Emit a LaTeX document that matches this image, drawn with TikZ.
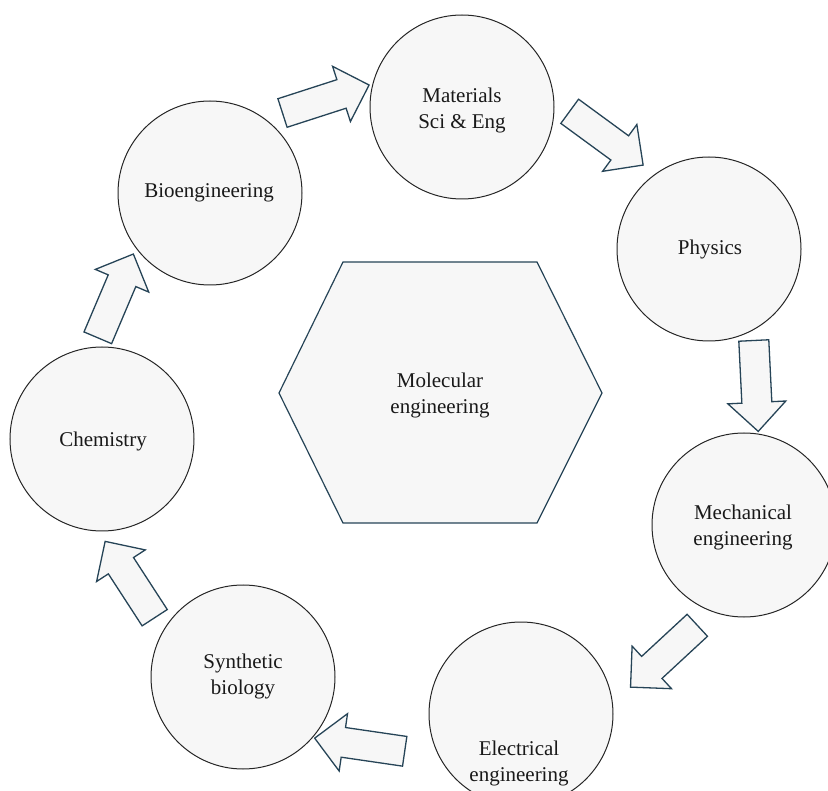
\documentclass[tikz,border=0pt]{standalone}
\usepackage{fontspec}
\setmainfont{Liberation Serif}
\definecolor{fillg}{HTML}{F7F7F7}
\definecolor{edgec}{HTML}{264457}
\begin{document}
\begin{tikzpicture}[x=1pt,y=-1pt,
  circ/.style={circle,draw=black!85,line width=1pt,fill=fillg,minimum size=184pt,inner sep=0pt},
  lbl/.style={align=center,font=\fontsize{21}{26}\selectfont,text=black!90,inner sep=0pt},
  arrowshape/.style={draw=edgec,fill=fillg,line width=1.3pt,line join=miter},
  hexshape/.style={draw=edgec,fill=fillg,line width=1.2pt,line join=miter},
  pics/blockarrow/.style={code={\path[arrowshape] (0,-15)--(62,-15)--(62,-29)--(91,0)--(62,29)--(62,15)--(0,15)--cycle;}}
]
\useasboundingbox (0,0) rectangle (828,791);
\clip (0,0) rectangle (828,791);

% circles
\node[circ] (mat) at (462,107) {};
\node[circ] (phy) at (709,249) {};
\node[circ] (mec) at (744,525) {};
\node[circ] (ele) at (521,714) {};
\node[circ] (syn) at (243,677) {};
\node[circ] (che) at (102,439) {};
\node[circ] (bio) at (210,193) {};

% labels
\node[lbl] (tmat) at (462,110) {Materials\\Sci \& Eng};
\node[lbl] (tphy) at (710,249) {Physics};
\node[lbl] (tmec) at (743,527) {Mechanical\\engineering};
\node[lbl] (tele) at (519,763) {Electrical\\engineering};
\node[lbl] (tsyn) at (243,676) {Synthetic\\biology};
\node[lbl] (tche) at (103,441) {Chemistry};
\node[lbl] (tbio) at (209,193) {Bioengineering};

% hexagon
\path[hexshape] (343,262) -- (537,262) -- (602,393) -- (537,523) -- (343,523) -- (279,393) -- cycle;
\node[lbl] (mol) at (440,395) {Molecular\\engineering};

% block arrows
\pic[rotate=17.9] at (282.5,113) {blockarrow};
\pic[rotate=-36.2] at (569.7,111.3) {blockarrow};
\pic[rotate=-87.2] at (753.8,340.5) {blockarrow};
\pic[rotate=-137.2] at (697.3,625.3) {blockarrow};
\pic[rotate=171.7] at (404.7,751.3) {blockarrow};
\pic[rotate=123] at (154.7,617.7) {blockarrow};
\pic[rotate=67] at (97.8,337.8) {blockarrow};
\end{tikzpicture}
\end{document}
